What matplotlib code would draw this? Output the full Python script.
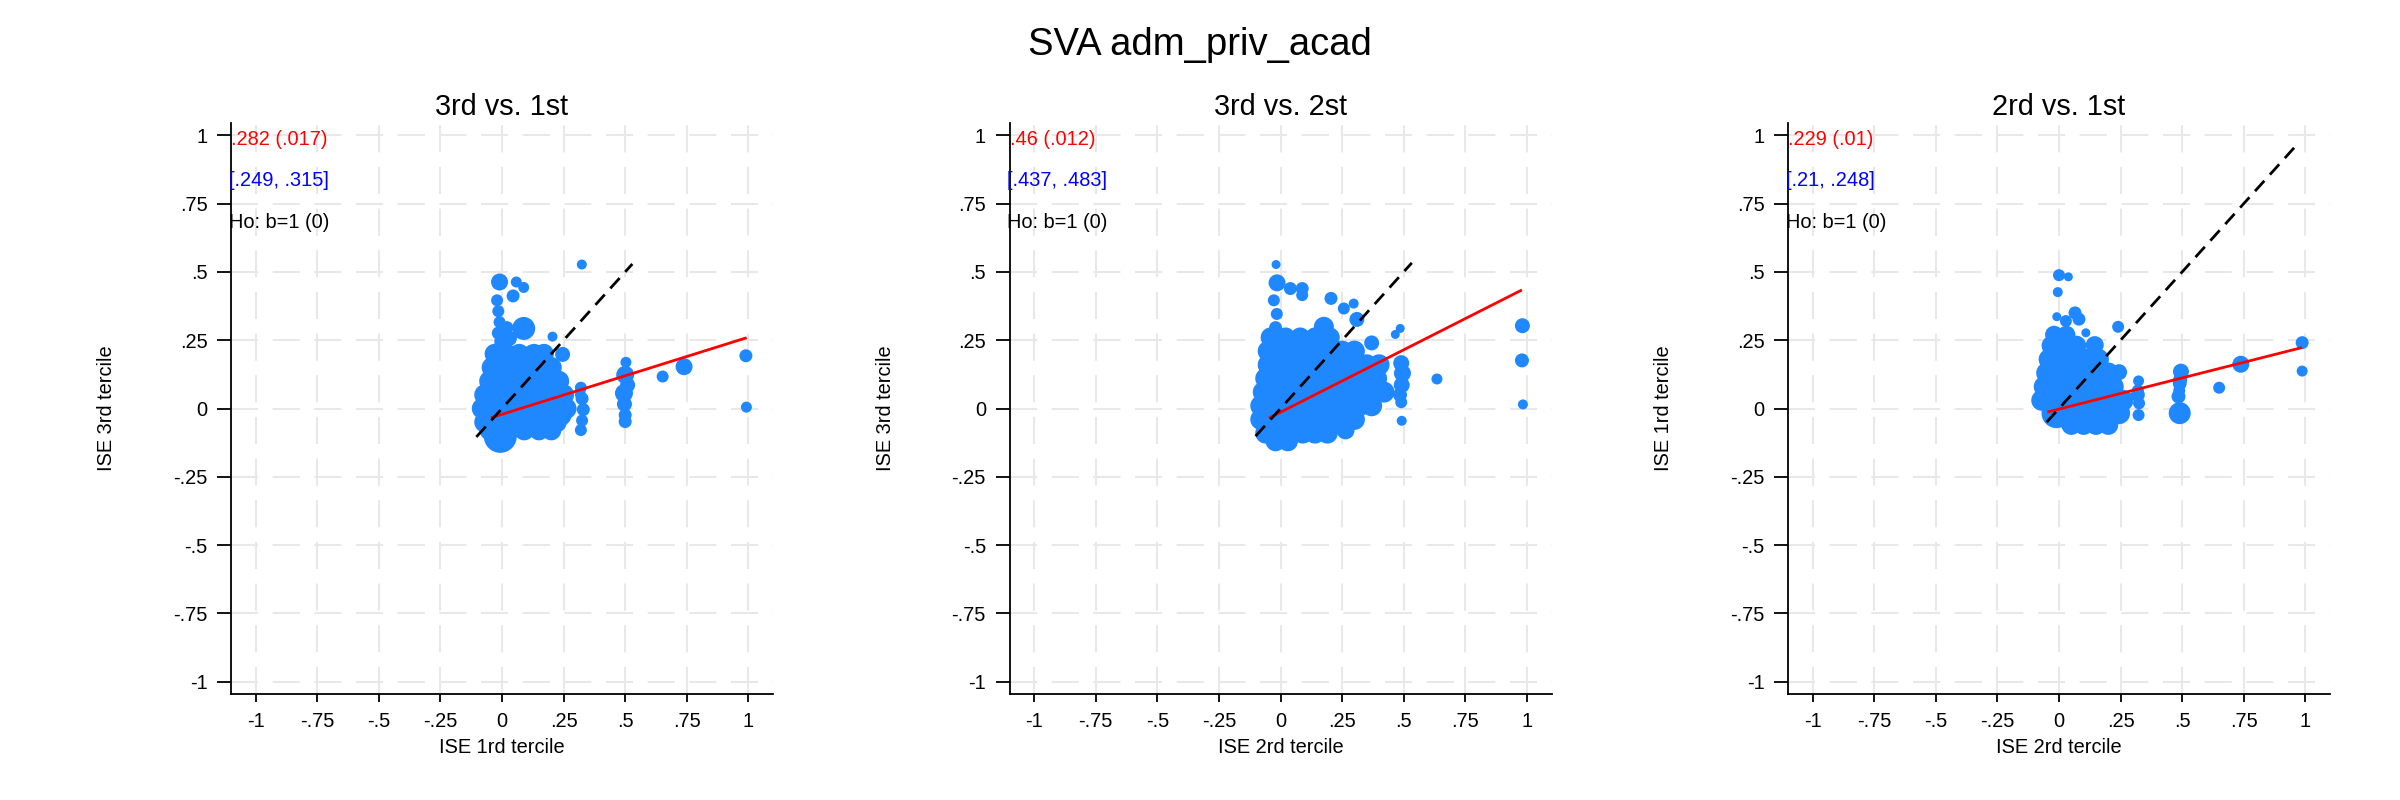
import matplotlib
matplotlib.use("Agg")
import matplotlib.pyplot as plt
import numpy as np

plt.rcParams['font.family'] = ['Liberation Sans', 'DejaVu Sans']

suptitle = "SVA adm_priv_acad"
panel_titles = ["3rd vs. 1st", "3rd vs. 2st", "2rd vs. 1st"]
x_labels = ["ISE 1rd tercile", "ISE 2rd tercile", "ISE 2rd tercile"]
y_labels = ["ISE 3rd tercile", "ISE 3rd tercile", "ISE 1rd tercile"]
coef_text = [".282 (.017)", ".46 (.012)", ".229 (.01)"]
ci_text = ["[.249, .315]", "[.437, .483]", "[.21, .248]"]
ho_text = ["Ho: b=1 (0)", "Ho: b=1 (0)", "Ho: b=1 (0)"]

ticks = [-1, -0.75, -0.5, -0.25, 0, 0.25, 0.5, 0.75, 1]
tick_labels = ["-1", "-.75", "-.5", "-.25", "0", ".25", ".5", ".75", "1"]

# ---------- Panel 1: 3rd vs 1st (x, y, marker diameter in px) ----------
p1_x = [0.324, -0.010, 0.058, 0.088, 0.045, -0.020, -0.015, -0.010, -0.015, -0.005, -0.020,
        0.020, 0.030, 0.088, 0.115, 0.205, 0.246,
        -0.03, 0.02, 0.07, 0.13, 0.17,
        -0.04, 0.00, 0.05, 0.10, 0.15, 0.20,
        -0.05, -0.01, 0.04, 0.09, 0.14, 0.19, 0.23,
        -0.07, -0.03, 0.02, 0.07, 0.12, 0.17, 0.22, 0.25,
        -0.08, -0.04, 0.01, 0.06, 0.11, 0.16, 0.21, 0.26,
        -0.07, -0.03, 0.02, 0.07, 0.12, 0.17, 0.22,
        -0.05, 0.03, 0.09, 0.15, 0.20,
        -0.007, 0.236,
        0.320, 0.318, 0.325, 0.330, 0.325, 0.320,
        0.503, 0.500, 0.510, 0.495, 0.497, 0.500, 0.500,
        0.652, 0.739, 0.990, 0.992]
p1_y = [0.527, 0.463, 0.463, 0.443, 0.412, 0.396, 0.356, 0.316, 0.276, 0.246, 0.216,
        0.296, 0.256, 0.293, 0.212, 0.263, 0.198,
        0.20, 0.20, 0.20, 0.20, 0.20,
        0.15, 0.15, 0.15, 0.15, 0.15, 0.15,
        0.10, 0.10, 0.10, 0.10, 0.10, 0.10, 0.10,
        0.05, 0.05, 0.05, 0.05, 0.05, 0.05, 0.05, 0.05,
        0.00, 0.00, 0.00, 0.00, 0.00, 0.00, 0.00, 0.00,
        -0.05, -0.05, -0.05, -0.05, -0.05, -0.05, -0.05,
        -0.08, -0.08, -0.08, -0.08, -0.08,
        -0.102, -0.023,
        0.076, 0.051, 0.036, -0.004, -0.044, -0.079,
        0.169, 0.123, 0.086, 0.056, 0.016, -0.024, -0.048,
        0.117, 0.153, 0.193, 0.005]
p1_d = [10, 17, 11, 11, 13, 12, 12, 12, 13, 13, 13,
        13, 15, 23, 11, 10, 15,
        20, 20, 20, 20, 20,
        21, 21, 21, 21, 21, 21,
        21, 21, 21, 21, 21, 21, 21,
        21, 21, 21, 21, 21, 21, 21, 21,
        21, 21, 21, 21, 21, 21, 21, 21,
        21, 21, 21, 21, 21, 21, 21,
        20, 20, 20, 20, 20,
        33, 23,
        12, 11, 13, 13, 12, 12,
        11, 18, 15, 18, 15, 13, 13,
        12, 17, 13, 11]
p1_fit_x = [-0.045, 0.993]
p1_fit_y = [-0.034, 0.259]
p1_diag = [-0.104, 0.529]

# ---------- Panel 2: 3rd vs 2st ----------
p2_x = [-0.018, -0.014, 0.040, 0.088, 0.088, -0.027, -0.015, -0.020, -0.030,
        0.205, 0.257, 0.297, 0.310, 0.176, 0.486, 0.466,
        -0.04, 0.02, 0.08, 0.14, 0.20,
        -0.05, 0.00, 0.05, 0.10, 0.15, 0.20, 0.25, 0.30, 0.37,
        -0.05, 0.00, 0.05, 0.10, 0.15, 0.20, 0.25, 0.30, 0.35, 0.40,
        -0.06, -0.01, 0.04, 0.09, 0.14, 0.19, 0.24, 0.29, 0.34, 0.39,
        -0.07, -0.02, 0.03, 0.08, 0.13, 0.18, 0.23, 0.28, 0.33, 0.38, 0.42,
        -0.08, -0.03, 0.02, 0.07, 0.12, 0.17, 0.22, 0.27, 0.32, 0.37,
        -0.08, -0.03, 0.02, 0.07, 0.12, 0.17, 0.22, 0.27, 0.30,
        -0.06, -0.01, 0.04, 0.09, 0.14, 0.19,
        -0.02, 0.03,
        0.264,
        0.490, 0.495, 0.492, 0.485, 0.490, 0.492,
        0.318, 0.635, 0.982, 0.980, 0.984]
p2_y = [0.527, 0.460, 0.439, 0.439, 0.415, 0.396, 0.346, 0.296, 0.266,
        0.403, 0.366, 0.384, 0.326, 0.299, 0.293, 0.271,
        0.26, 0.26, 0.26, 0.26, 0.26,
        0.21, 0.21, 0.21, 0.21, 0.21, 0.21, 0.21, 0.21, 0.24,
        0.16, 0.16, 0.16, 0.16, 0.16, 0.16, 0.16, 0.16, 0.16, 0.16,
        0.11, 0.11, 0.11, 0.11, 0.11, 0.11, 0.11, 0.11, 0.11, 0.11,
        0.06, 0.06, 0.06, 0.06, 0.06, 0.06, 0.06, 0.06, 0.06, 0.06, 0.06,
        0.01, 0.01, 0.01, 0.01, 0.01, 0.01, 0.01, 0.01, 0.01, 0.01,
        -0.04, -0.04, -0.04, -0.04, -0.04, -0.04, -0.04, -0.04, -0.04,
        -0.09, -0.09, -0.09, -0.09, -0.09, -0.09,
        -0.12, -0.12,
        -0.080,
        0.166, 0.129, 0.086, 0.050, 0.023, -0.045,
        -0.048, 0.108, 0.303, 0.176, 0.015]
p2_d = [9, 17, 13, 13, 12, 12, 12, 13, 13,
        13, 12, 10, 15, 20, 9, 9,
        20, 20, 20, 20, 20,
        21, 21, 21, 21, 21, 21, 21, 21, 15,
        21, 21, 21, 21, 21, 21, 21, 21, 21, 21,
        21, 21, 21, 21, 21, 21, 21, 21, 21, 21,
        21, 21, 21, 21, 21, 21, 21, 21, 21, 21, 21,
        21, 21, 21, 21, 21, 21, 21, 21, 21, 21,
        21, 21, 21, 21, 21, 21, 21, 21, 21,
        21, 21, 21, 21, 21, 21,
        20, 20,
        18,
        16, 17, 16, 14, 12, 10,
        8, 11, 15, 14, 10]
p2_fit_x = [-0.047, 0.980]
p2_fit_y = [-0.035, 0.434]
p2_diag = [-0.101, 0.533]

# ---------- Panel 3: 2rd vs 1st ----------
p3_x = [0.000, 0.038, -0.005, 0.065, 0.081, -0.009, 0.028, 0.109, 0.240, 0.145,
        -0.02, 0.03,
        -0.03, 0.02, 0.07,
        -0.04, 0.01, 0.06, 0.11, 0.16,
        -0.05, 0.00, 0.05, 0.10, 0.15, 0.20,
        -0.06, -0.01, 0.04, 0.09, 0.14, 0.19, 0.22,
        -0.07, -0.02, 0.03, 0.08, 0.13, 0.18, 0.23, 0.26,
        0.04, 0.09, 0.14, 0.19,
        0.05, 0.10, 0.15, 0.20,
        -0.010, 0.244, 0.244,
        0.323, 0.320, 0.320, 0.325, 0.323,
        0.495, 0.492, 0.490, 0.488, 0.485, 0.490,
        0.650, 0.738, 0.987, 0.987]
p3_y = [0.488, 0.482, 0.426, 0.350, 0.327, 0.336, 0.320, 0.277, 0.299, 0.232,
        0.27, 0.27,
        0.23, 0.23, 0.23,
        0.18, 0.18, 0.18, 0.18, 0.18,
        0.13, 0.13, 0.13, 0.13, 0.13, 0.13,
        0.08, 0.08, 0.08, 0.08, 0.08, 0.08, 0.08,
        0.03, 0.03, 0.03, 0.03, 0.03, 0.03, 0.03, 0.03,
        -0.02, -0.02, -0.02, -0.02,
        -0.06, -0.06, -0.06, -0.06,
        -0.017, -0.017, 0.133,
        0.101, 0.066, 0.050, 0.019, -0.024,
        0.135, 0.106, 0.092, 0.066, 0.044, -0.017,
        0.076, 0.162, 0.241, 0.137]
p3_d = [12, 9, 10, 13, 13, 9, 12, 9, 12, 18,
        18, 18,
        20, 20, 20,
        21, 21, 21, 21, 21,
        21, 21, 21, 21, 21, 21,
        21, 21, 21, 21, 21, 21, 21,
        21, 21, 21, 21, 21, 21, 21, 21,
        21, 21, 21, 21,
        20, 20, 20, 20,
        30, 22, 16,
        11, 12, 14, 12, 12,
        16, 14, 14, 12, 14, 22,
        12, 17, 13, 11]
p3_fit_x = [-0.047, 0.986]
p3_fit_y = [-0.013, 0.223]
p3_diag = [-0.050, 0.973]

panels = [
    (p1_x, p1_y, p1_d, p1_fit_x, p1_fit_y, p1_diag),
    (p2_x, p2_y, p2_d, p2_fit_x, p2_fit_y, p2_diag),
    (p3_x, p3_y, p3_d, p3_fit_x, p3_fit_y, p3_diag),
]

W, H = 2400, 800
fig = plt.figure(figsize=(24, 8), dpi=100)
fig.patch.set_facecolor('white')

lefts_px = [231, 1009.5, 1788]
ax_w_px, ax_top_px, ax_bot_px = 542, 123, 694
ax_h_px = ax_bot_px - ax_top_px

marker_color = '#1f88ff'
grid_color = '#e8e8e8'

for i, (px, py, pd_, fx, fy, dg) in enumerate(panels):
    ax = fig.add_axes([lefts_px[i] / W, 1 - ax_bot_px / H, ax_w_px / W, ax_h_px / H])
    ax.set_xlim(-1.1, 1.1)
    ax.set_ylim(-1.045, 1.045)
    for t in ticks:
        ax.axhline(t, color=grid_color, lw=1.5, ls=(0, (13, 7)), zorder=0)
        ax.axvline(t, color=grid_color, lw=1.5, ls=(0, (13, 7)), zorder=0)
    sizes = (np.asarray(pd_) * 0.72) ** 2
    ax.scatter(px, py, s=sizes, c=marker_color, edgecolors='none', zorder=2)
    ax.plot(fx, fy, color='#ff0000', lw=2.0, zorder=3, solid_capstyle='butt')
    ax.plot(dg, dg, color='black', lw=2.0, ls=(0, (5, 3)), zorder=4)

    for s in ['top', 'right']:
        ax.spines[s].set_visible(False)
    for s in ['left', 'bottom']:
        ax.spines[s].set_linewidth(1.3)
    ax.set_xticks(ticks)
    ax.set_xticklabels(tick_labels)
    ax.set_yticks(ticks)
    ax.set_yticklabels(tick_labels)
    ax.tick_params(axis='y', length=10, width=1.3, pad=7, labelsize=14.4, direction='out')
    ax.tick_params(axis='x', length=5.8, width=1.3, pad=7, labelsize=14.4, direction='out')

    ax.set_xlabel(x_labels[i], fontsize=14.4)
    ax.xaxis.set_label_coords(0.5, -(752.7 - ax_bot_px) / ax_h_px)
    ax.xaxis.label.set_va('baseline')
    ax.set_ylabel(y_labels[i], fontsize=14.4)
    ax.yaxis.set_label_coords((112.3 - 231) / ax_w_px, 0.5)
    ax.yaxis.label.set_rotation_mode('anchor')
    ax.yaxis.label.set_va('baseline')
    ax.yaxis.label.set_ha('center')

    ax.text(0.5, 1 + (ax_top_px - 115) / ax_h_px, panel_titles[i],
            transform=ax.transAxes, ha='center', va='baseline', fontsize=20.8)

    ax.text(-1.1, 0.965, coef_text[i], color='#ff0000', fontsize=14.4,
            ha='left', va='baseline', clip_on=False, zorder=5)
    ax.text(-1.11, 0.815, ci_text[i], color='#0000ff', fontsize=14.4,
            ha='left', va='baseline', clip_on=False, zorder=5)
    ax.text(-1.11, 0.66, ho_text[i], color='black', fontsize=14.4,
            ha='left', va='baseline', clip_on=False, zorder=5)

fig.text(0.5, 1 - 55 / H, suptitle, ha='center', va='baseline', fontsize=27.5)

fig.savefig('out.png', dpi=100, facecolor='white')
